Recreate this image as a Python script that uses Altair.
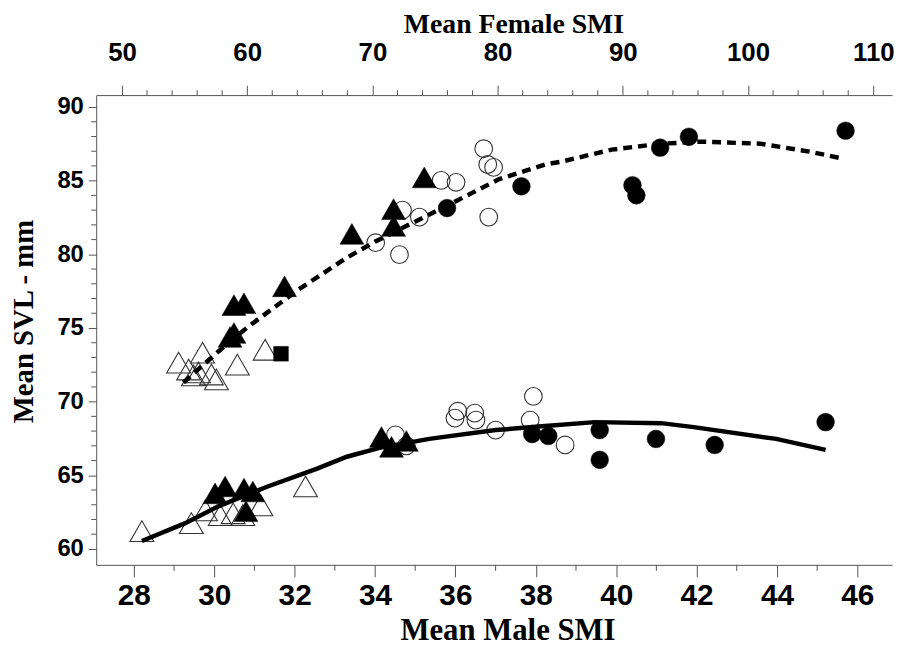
import altair as alt
import pandas as pd

# ---------------- data ----------------
# Female observations (top axis: Mean Female SMI)
F_X = [54.52, 56.43, 59.21, 61.43, 55.32, 56.11, 57.14, 57.54, 55.71,
       62.70,
       58.94, 59.74, 58.63, 58.94, 62.98, 68.36, 71.69, 71.69, 74.14,
       70.26, 72.16, 72.40, 73.75, 75.49, 76.68, 78.89, 79.21, 79.68, 79.29,
       75.96, 81.90, 90.77, 91.08, 92.98, 95.28, 107.79]
F_Y = [72.65, 73.32, 72.51, 73.52, 72.18, 71.98, 71.84, 71.51, 71.78,
       73.25,
       76.55, 76.68, 74.39, 74.66, 77.83, 81.39, 83.07, 81.93, 85.22,
       80.79, 79.98, 83.00, 82.53, 85.02, 84.89, 87.17, 86.10, 85.90, 82.53,
       83.14, 84.62, 84.69, 84.01, 87.24, 87.98, 88.39]
F_KIND = (["open_tri"] * 9 + ["fill_sq"] + ["fill_tri"] * 9
          + ["open_circ"] * 10 + ["fill_circ"] * 7)

# Male observations (bottom axis: Mean Male SMI)
M_X = [28.20, 29.43, 29.78, 30.15, 30.47, 30.71, 31.16, 32.27,
       30.27, 30.74, 30.96, 30.79, 30.02, 34.16, 34.41, 34.78,
       34.51, 34.78, 36.06, 35.99, 36.48, 36.51, 37.00, 37.94, 37.86, 38.73,
       37.91, 38.31, 39.59, 39.59, 40.99, 42.45, 45.21]
M_Y = [61.21, 61.75, 62.62, 62.29, 62.42, 62.29, 62.96, 64.24,
       64.24, 64.10, 63.90, 62.56, 63.77, 67.60, 66.93, 67.33,
       67.74, 67.00, 69.35, 68.88, 69.22, 68.75, 68.07, 70.36, 68.75, 67.06,
       67.80, 67.67, 68.07, 66.05, 67.47, 67.06, 68.61]
M_KIND = (["open_tri"] * 8 + ["fill_tri"] * 8
          + ["open_circ"] * 10 + ["fill_circ"] * 7)

# Fitted curves
F_CURVE_X = [54.91, 57.68, 60.05, 64.01, 67.97, 70.19, 75.88, 80.08, 83.80,
             85.15, 89.10, 93.06, 96.23, 100.98, 104.94, 107.55]
F_CURVE_Y = [71.30, 73.39, 75.07, 77.56, 79.78, 80.85, 83.27, 85.09, 86.10,
             86.30, 87.11, 87.51, 87.65, 87.51, 86.97, 86.50]
M_CURVE_X = [28.20, 29.28, 30.10, 31.33, 32.56, 33.30, 34.11, 35.35, 37.00,
             38.23, 39.47, 41.12, 41.93, 43.98, 45.21]
M_CURVE_Y = [60.54, 61.75, 62.89, 64.24, 65.45, 66.26, 66.86, 67.47, 68.07,
             68.34, 68.61, 68.54, 68.27, 67.47, 66.73]

# Axis ticks
MALE_TICKS = [28, 30, 32, 34, 36, 38, 40, 42, 44, 46]
MALE_MINOR = [29, 31, 33, 35, 37, 39, 41, 43, 45]
FEMALE_TICKS = [50, 60, 70, 80, 90, 100, 110]
FEMALE_MINOR = [52, 54, 56, 58, 62, 64, 66, 68, 72, 74, 76, 78, 82, 84, 86, 88,
                92, 94, 96, 98, 102, 104, 106, 108]
Y_TICKS = [60, 65, 70, 75, 80, 85, 90]
Y_MINOR = [61, 62, 63, 64, 66, 67, 68, 69, 71, 72, 73, 74, 76, 77, 78, 79,
           81, 82, 83, 84, 86, 87, 88, 89]

# ---------------- chart ----------------
W, H = 803, 474
AX = "#555555"
NUM_FONT = "Liberation Sans"
TITLE_FONT = "Liberation Serif"

female_df = pd.DataFrame({"smi": F_X, "svl": F_Y, "kind": F_KIND})
male_df = pd.DataFrame({"smi": M_X, "svl": M_Y, "kind": M_KIND})
female_curve = pd.DataFrame({"smi": F_CURVE_X, "svl": F_CURVE_Y})
male_curve = pd.DataFrame({"smi": M_CURVE_X, "svl": M_CURVE_Y})

male_scale = alt.Scale(domain=[27.063, 46.863], nice=False, zero=False)
female_scale = alt.Scale(domain=[47.94, 111.5], nice=False, zero=False)
y_scale = alt.Scale(domain=[58.92, 90.81], nice=False, zero=False)

male_axis = alt.Axis(orient="bottom", values=MALE_TICKS, title="Mean Male SMI",
                     grid=False, tickSize=12, tickColor=AX, domainColor=AX,
                     labelFont=NUM_FONT, labelFontSize=30, labelFontWeight="bold",
                     labelColor="black", labelPadding=19, labelBaseline="middle",
                     labelFlush=False, labelOverlap=False, format="d",
                     titleFont=TITLE_FONT, titleFontSize=31,
                     titleFontWeight="bold", titleColor="black",
                     titleX=415, titleY=66, titleBaseline="middle")
female_axis = alt.Axis(orient="top", values=FEMALE_TICKS, title="Mean Female SMI",
                       grid=False, tickSize=10, tickColor=AX, domainColor=AX,
                       labelFont=NUM_FONT, labelFontSize=26, labelFontWeight="bold",
                       labelColor="black", labelPadding=33, labelBaseline="middle",
                       labelFlush=False, labelOverlap=False, format="d",
                       titleFont=TITLE_FONT, titleFontSize=28,
                       titleFontWeight="bold", titleColor="black",
                       titleX=421, titleY=-71, titleBaseline="middle")
y_axis = alt.Axis(values=Y_TICKS, title="Mean SVL - mm", grid=False,
                  tickSize=8, tickColor=AX, domainColor=AX,
                  labelFont=NUM_FONT, labelFontSize=24,
                  labelFontWeight="bold", labelColor="black", labelPadding=5,
                  labelFlush=False, labelOverlap=False, format="d",
                  titleFont=TITLE_FONT, titleFontSize=29,
                  titleFontWeight="bold", titleColor="black",
                  titleX=-73, titleY=228, titleBaseline="middle",
                  titleAngle=270)


def Xm():
    return alt.X("smi:Q", scale=male_scale, axis=male_axis)


def Xf():
    return alt.X("smi:Q", scale=female_scale, axis=female_axis)


def Yc():
    return alt.Y("svl:Q", scale=y_scale, axis=y_axis)


def points(df, X, kind, shape, filled, size):
    if filled:
        mk = dict(shape=shape, filled=True, fill="black", stroke="black",
                  strokeWidth=0.5, size=size, opacity=1)
    else:
        mk = dict(shape=shape, filled=False, fill="transparent",
                  stroke="#333333", strokeWidth=1.1, size=size, opacity=1)
    return (alt.Chart(df).mark_point(**mk)
            .encode(x=X(), y=Yc())
            .transform_filter(alt.datum.kind == kind))


TRI = 580
CIRC = 320
SQ = 220

male_layers = [
    points(male_df, Xm, "open_tri", "triangle-up", False, TRI),
    points(male_df, Xm, "open_circ", "circle", False, CIRC),
    alt.Chart(male_curve).mark_line(color="black", strokeWidth=4.5)
    .encode(x=Xm(), y=Yc()),
    points(male_df, Xm, "fill_tri", "triangle-up", True, TRI),
    points(male_df, Xm, "fill_circ", "circle", True, CIRC),
    alt.Chart(pd.DataFrame({"smi": MALE_MINOR})).mark_rule(color=AX, clip=False)
    .encode(x=Xm(), y=alt.value(H), y2=alt.value(H + 6)),
    alt.Chart(pd.DataFrame({"svl": Y_MINOR})).mark_rule(color=AX, clip=False)
    .encode(y=Yc(), x=alt.value(0), x2=alt.value(-5)),
]

female_layers = [
    points(female_df, Xf, "open_tri", "triangle-up", False, TRI),
    points(female_df, Xf, "open_circ", "circle", False, CIRC),
    alt.Chart(female_curve).mark_line(color="black", strokeWidth=4.5,
                                      strokeDash=[9, 6])
    .encode(x=Xf(), y=Yc()),
    points(female_df, Xf, "fill_tri", "triangle-up", True, TRI),
    points(female_df, Xf, "fill_circ", "circle", True, CIRC),
    points(female_df, Xf, "fill_sq", "square", True, SQ),
    alt.Chart(pd.DataFrame({"smi": FEMALE_MINOR})).mark_rule(color=AX, clip=False)
    .encode(x=Xf(), y=alt.value(0), y2=alt.value(-5)),
]

chart = (
    alt.layer(alt.layer(*male_layers), alt.layer(*female_layers))
    .resolve_scale(x="independent")
    .properties(width=W, height=H, background="white",
                autosize=alt.AutoSizeParams(type="none"),
                padding={"left": 89, "top": 85, "right": 3, "bottom": 80})
    .configure_view(stroke=None)
)

chart.save("out.html", embed_options={"renderer": "svg", "actions": False})
